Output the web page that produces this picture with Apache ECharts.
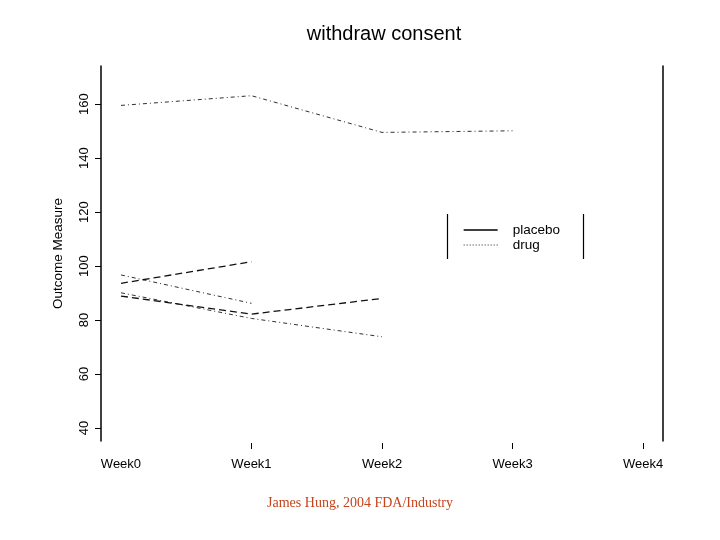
<!DOCTYPE html>
<html>
<head>
<meta charset="utf-8">
<script src="https://cdn.jsdelivr.net/npm/echarts@6/dist/echarts.min.js"></script>
<style>html,body{margin:0;padding:0;background:#fff;}#c{width:720px;height:540px;}</style>
</head>
<body>
<div id="c"></div>
<script>
var weekLabels = ['Week0', 'Week1', 'Week2', 'Week3', 'Week4'];
var yTicks = [40, 60, 80, 100, 120, 140, 160];
var placebo1 = [93.6, 101.6];
var placebo2 = [88.9, 82.2, 88.0];
var drug1 = [159.5, 163.1, 149.5, 150.1];
var drug2 = [96.7, 86.2];
var drug3 = [90.1, 80.6, 73.8];

function pts(arr) { return arr.map(function (v, i) { return [i, v]; }); }

var placeboStyle = { color: '#111', width: 1.3, type: [7, 4] };
var drugStyle = { color: '#2a3238', width: 1, type: [4, 3, 1, 3] };

function mk(name, arr, style) {
  return { name: name, type: 'line', data: pts(arr), symbol: 'none', lineStyle: style, itemStyle: { color: style.color }, silent: true, animation: false, xAxisIndex: 0, yAxisIndex: 0 };
}

var chart = echarts.init(document.getElementById('c'), null, { renderer: 'canvas' });
var font = 'Liberation Sans, Arial, sans-serif';
chart.setOption({
  animation: false,
  backgroundColor: '#fff',
  title: {
    text: 'withdraw consent', left: 379, top: 19, textAlign: 'center',
    textStyle: { fontFamily: font, fontSize: 20, fontWeight: 'normal', color: '#000' }
  },
  grid: { left: 101, right: 57, top: 66, bottom: 99 },
  legend: {
    left: 463, top: 223, padding: 0, orient: 'vertical', itemWidth: 34, itemHeight: 14, itemGap: 1,
    textStyle: { fontFamily: font, fontSize: 13.5, color: '#000', padding: [0, 0, 0, 10] },
    data: [
      { name: 'placebo', itemStyle: { opacity: 0 }, lineStyle: { type: 'solid', width: 1.3, color: '#000' } },
      { name: 'drug', itemStyle: { opacity: 0 }, lineStyle: { type: [1, 2], width: 1.1, color: '#222' } }
    ],
    selectedMode: false
  },
  xAxis: {
    type: 'value', min: -0.153, max: 4.153, offset: 2,
    axisLine: { show: false },
    splitLine: { show: false },
    axisTick: { show: true, length: 6, customValues: [1, 2, 3, 4], lineStyle: { color: '#000', width: 1 } },
    axisLabel: {
      customValues: [0, 1, 2, 3, 4], margin: 15,
      formatter: function (v) { return weekLabels[Math.round(v)]; },
      fontFamily: font, fontSize: 13, color: '#000'
    }
  },
  yAxis: [{
    type: 'value', min: 35.2, max: 174.1,
    name: 'Outcome Measure', nameLocation: 'middle', nameGap: 36, nameRotate: 90,
    nameTextStyle: { fontFamily: font, fontSize: 13.5, color: '#000' },
    axisLine: { show: true, onZero: false, lineStyle: { color: '#000', width: 1.5 } },
    splitLine: { show: false },
    axisTick: { show: true, length: 6, customValues: yTicks, lineStyle: { color: '#000' } },
    axisLabel: { customValues: yTicks, rotate: 90, margin: 10, fontFamily: font, fontSize: 13, color: '#000' }
  }, {
    type: 'value', min: 35.2, max: 174.1, position: 'right',
    axisLine: { show: true, onZero: false, lineStyle: { color: '#000', width: 1.5 } },
    splitLine: { show: false }, axisTick: { show: false }, axisLabel: { show: false }
  }],
  graphic: [
    { type: 'line', shape: { x1: 447.5, y1: 214, x2: 447.5, y2: 259 }, style: { stroke: '#000', lineWidth: 1.2 } },
    { type: 'line', shape: { x1: 583.5, y1: 214, x2: 583.5, y2: 259 }, style: { stroke: '#000', lineWidth: 1.2 } },
    { type: 'text', left: 'center', top: 496, style: { text: 'James Hung, 2004 FDA/Industry', font: '14px "Liberation Serif", "Times New Roman", serif', fill: '#c4451c' } }
  ],
  series: [
    mk('drug', drug1, drugStyle),
    mk('drug', drug2, drugStyle),
    mk('drug', drug3, drugStyle),
    mk('placebo', placebo1, placeboStyle),
    mk('placebo', placebo2, placeboStyle)
  ]
});
</script>
</body>
</html>
